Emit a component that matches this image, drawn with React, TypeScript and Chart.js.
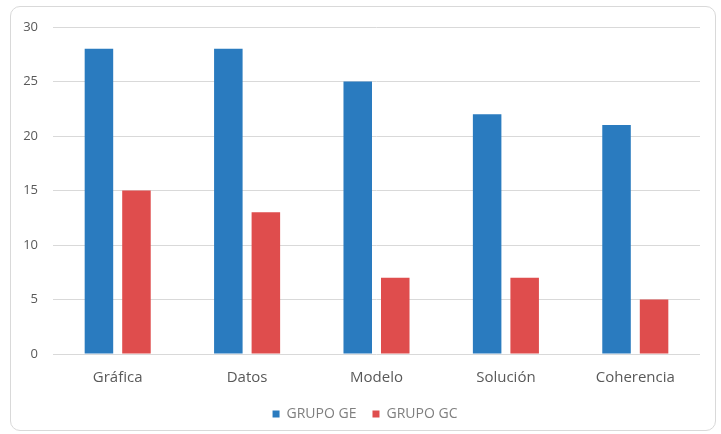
import React, { useEffect, useRef } from "react";
import { Chart, registerables } from "chart.js";

Chart.register(...registerables);

const categories = ["Gráfica", "Datos", "Modelo", "Solución", "Coherencia"];
const grupoGE = [28, 28, 25, 22, 21];
const grupoGC = [15, 13, 7, 7, 5];
const seriesNames = ["GRUPO GE", "GRUPO GC"];

const shiftLegend = {
  id: "shiftLegend",
  afterLayout(chart: any) {
    const lg = chart.legend;
    if (lg) {
      lg.left += 15;
      lg.right += 15;
      lg.top -= 11;
      lg.bottom -= 11;
    }
  },
};

export default function App() {
  const ref = useRef<HTMLCanvasElement | null>(null);
  useEffect(() => {
    document.body.style.margin = "0";
    const ctx = ref.current!;
    const chart = new Chart(ctx, {
      type: "bar",
      data: {
        labels: categories,
        datasets: [
          {
            label: seriesNames[0],
            data: grupoGE,
            backgroundColor: "#2A7BBF",
            categoryPercentage: 0.58,
            barPercentage: 0.76,
          },
          {
            label: seriesNames[1],
            data: grupoGC,
            backgroundColor: "#DF4D4D",
            categoryPercentage: 0.58,
            barPercentage: 0.76,
          },
        ],
      },
      plugins: [shiftLegend],
      options: {
        animation: false,
        responsive: false,
        maintainAspectRatio: false,
        layout: { padding: { top: 27, right: 21, bottom: -8, left: 0 } },
        plugins: {
          tooltip: { enabled: false },
          legend: {
            position: "bottom",
            labels: {
              boxWidth: 7,
              boxHeight: 7,
              padding: 16,
              color: "#7f7f7f",
              font: { family: "Open Sans", size: 14 },
            },
          },
        },
        scales: {
          x: {
            grid: { display: false, drawTicks: false },
            border: { display: false },
            ticks: {
              color: "#595959",
              padding: 15,
              font: { family: "Open Sans", size: 15 },
            },
          },
          y: {
            min: 0,
            max: 30,
            afterFit: (s: any) => {
              s.width = 53;
            },
            grid: { color: "#d9d9d9", drawTicks: false },
            border: { display: false },
            ticks: {
              stepSize: 5,
              color: "#595959",
              padding: 15,
              font: { family: "Open Sans", size: 13 },
            },
          },
        },
      },
    });
    return () => chart.destroy();
  }, []);
  return (
    <div style={{ position: "relative", width: 721, height: 434, background: "#fff" }}>
      <div
        style={{
          position: "absolute",
          left: 10,
          top: 6,
          width: 706,
          height: 425,
          border: "1px solid #d9d9d9",
          borderRadius: 10,
          boxSizing: "border-box",
        }}
      />
      <canvas ref={ref} width={721} height={434} style={{ position: "absolute", left: 0, top: 0 }} />
    </div>
  );
}
